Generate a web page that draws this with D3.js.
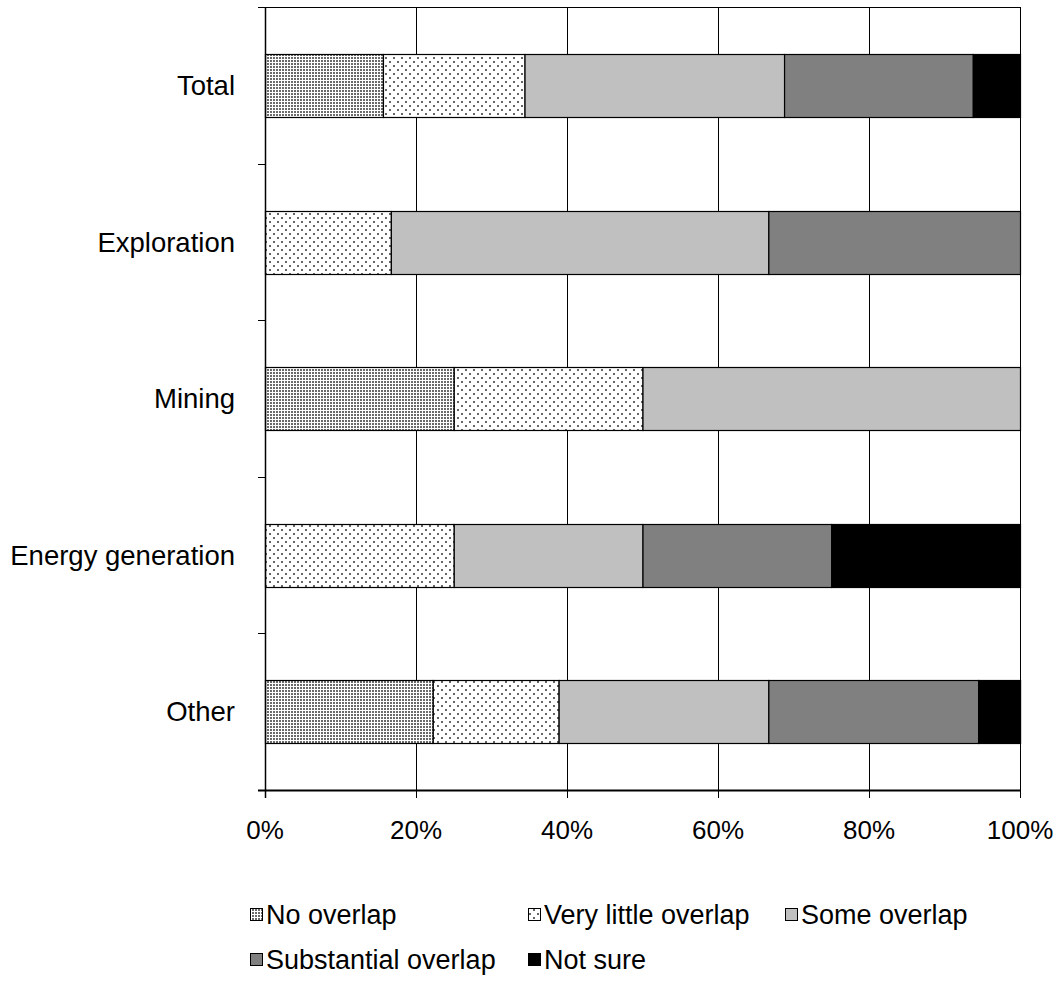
<!DOCTYPE html>
<html><head><meta charset="utf-8">
<script src="https://cdn.jsdelivr.net/npm/d3@7"></script>
<style>body{margin:0;background:#fff}svg{display:block}text{font-family:"Liberation Sans",Arial,sans-serif;fill:#000}</style>
</head><body>
<script>
const categories = ["Total","Exploration","Mining","Energy generation","Other"];
const seriesNames = ["No overlap","Very little overlap","Some overlap","Substantial overlap","Not sure"];
const noOverlap = [15.625, 0, 25, 0, 22.22];
const veryLittle = [18.75, 16.67, 25, 25, 16.67];
const someOverlap = [34.375, 50, 50, 25, 27.78];
const substantial = [25, 33.33, 0, 25, 27.78];
const notSure = [6.25, 0, 0, 25, 5.56];
const xTicks = [0,20,40,60,80,100];

(function(){
const W=1060,H=989;
const svg=d3.select("body").append("svg").attr("width",W).attr("height",H);
const defs=svg.append("defs");
const p1=defs.append("pattern").attr("id","pNo").attr("patternUnits","userSpaceOnUse").attr("width",3).attr("height",3);
p1.append("rect").attr("width",3).attr("height",3).attr("fill","#fff");
p1.append("rect").attr("x",0).attr("y",0).attr("width",2).attr("height",2).attr("fill","#6a6a6a");
const p2=defs.append("pattern").attr("id","pLittle").attr("patternUnits","userSpaceOnUse").attr("width",8).attr("height",8);
p2.append("rect").attr("width",8).attr("height",8).attr("fill","#fff");
p2.append("rect").attr("x",1).attr("y",1).attr("width",2).attr("height",2).attr("fill","#666");
p2.append("rect").attr("x",5).attr("y",5).attr("width",2).attr("height",2).attr("fill","#666");
const fills=["url(#pNo)","url(#pLittle)","#c0c0c0","#808080","#000000"];

const pL=265,pR=1020,pT=7,pB=790;
const x=d3.scaleLinear().domain([0,100]).range([pL,pR]);
const y=d3.scaleBand().domain(categories).range([pT,pB]).paddingInner(0).paddingOuter(0);

svg.append("g").selectAll("line").data(xTicks.slice(1)).join("line")
 .attr("x1",d=>x(d)+0.5).attr("x2",d=>x(d)+0.5).attr("y1",pT).attr("y2",pB)
 .attr("stroke","#000").attr("stroke-width",1);
svg.append("line").attr("x1",pL).attr("x2",pR+1).attr("y1",pT+0.5).attr("y2",pT+0.5).attr("stroke","#000");

const data=categories.map((c,i)=>({cat:c,vals:[noOverlap[i],veryLittle[i],someOverlap[i],substantial[i],notSure[i]]}));
const stack=d3.stack().keys([0,1,2,3,4]).value((d,k)=>d.vals[k]);
const series=stack(data);
const bh=y.bandwidth()/2.5;
series.forEach((s,k)=>{
  svg.append("g").selectAll("rect").data(s.filter(d=>d[1]-d[0]>0.01)).join("rect")
   .attr("x",d=>x(d[0])+0.5).attr("width",d=>x(d[1])-x(d[0]))
   .attr("y",d=>Math.round(y(d.data.cat)+y.bandwidth()/2-bh/2)+0.5).attr("height",Math.round(bh))
   .attr("fill",fills[k]).attr("stroke","#000").attr("stroke-width",1.2);
});

const yAxis=svg.append("g");
yAxis.append("line").attr("x1",pL+0.5).attr("x2",pL+0.5).attr("y1",pT).attr("y2",pB+8).attr("stroke","#000").attr("stroke-width",1.5);
const bounds=categories.map(c=>y(c)).concat([pB]);
yAxis.selectAll("line.t").data(bounds).join("line").attr("class","t")
 .attr("x1",pL-7).attr("x2",pL).attr("y1",d=>Math.round(d)+0.5).attr("y2",d=>Math.round(d)+0.5).attr("stroke","#000");
yAxis.selectAll("text").data(categories).join("text")
 .attr("x",235).attr("y",c=>y(c)+y.bandwidth()/2).attr("dy","0.35em").attr("text-anchor","end")
 .style("font-size","27.5px").text(c=>c);

const xAxis=svg.append("g");
xAxis.append("line").attr("x1",pL-7).attr("x2",pR+1).attr("y1",pB+0.5).attr("y2",pB+0.5).attr("stroke","#000").attr("stroke-width",2);
xAxis.selectAll("line.t").data(xTicks).join("line").attr("class","t")
 .attr("x1",d=>x(d)+0.5).attr("x2",d=>x(d)+0.5).attr("y1",pB).attr("y2",pB+8).attr("stroke","#000");
xAxis.selectAll("text").data(xTicks).join("text")
 .attr("x",d=>x(d)).attr("y",839).attr("text-anchor","middle")
 .style("font-size","26px").text(d=>d+"%");

const legPos=[[250,915],[528,915],[785,915],[250,960],[528,960]];
const lg=svg.append("g");
seriesNames.forEach((n,k)=>{
  const [lx,ly]=legPos[k];
  lg.append("rect").attr("x",lx+0.5).attr("y",ly-6.5).attr("width",12).attr("height",12)
   .attr("fill",fills[k]).attr("stroke","#000");
  lg.append("text").attr("x",lx+16).attr("y",ly).attr("dy","0.35em").style("font-size","27px").text(n);
});
})();
</script>
</body></html>
